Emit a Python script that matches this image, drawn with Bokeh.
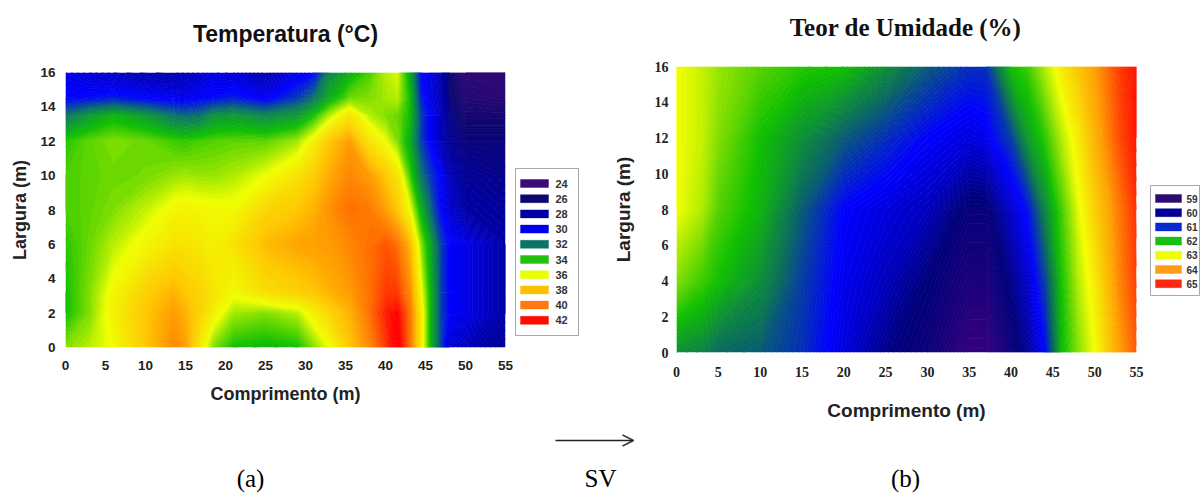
import numpy as np
from bokeh.embed import file_html
from bokeh.resources import INLINE
from bokeh.plotting import figure
from bokeh.layouts import column, row
from bokeh.models import (Range1d, FixedTicker, Arrow, OpenHead, ColumnDataSource)
from bokeh.core.properties import value

# --- values ---
temp_x = [0, 3, 6, 10, 13.5, 15, 17, 18.5, 21, 25, 29, 31, 33, 35.5, 38, 40, 41.5, 43, 44.5, 45.5, 47, 48, 50, 55]
temp_y = [0, 2, 3.2, 6, 8, 10, 12, 13.5, 14.5, 16]
temp_z = [
    [35, 35.5, 36.1, 38, 39.5, 39, 36.5, 35, 34, 33.8, 34, 35, 36, 38, 39.5, 41, 42.5, 40, 36.5, 34, 31, 29, 28.5, 27.5],
    [34, 35, 36.5, 38, 39, 38.5, 37.5, 36.5, 35.3, 35, 35.5, 36.5, 37.5, 38.5, 40, 41.5, 42, 40, 36.5, 34, 31, 30, 29.5, 28],
    [34, 35, 36.3, 37.7, 38.5, 38, 37.5, 37, 36.2, 37.2, 37.7, 38, 38.5, 39, 40, 41, 41, 39.5, 36, 34, 31, 30, 29.5, 28],
    [34.2, 34.8, 35.5, 36.3, 37, 37, 36.8, 36.5, 37, 38.3, 38.8, 38.9, 39, 39.5, 40, 40.5, 40, 38.5, 35, 33.5, 31, 30, 29.5, 28],
    [34.5, 34.7, 35, 35.6, 36.3, 36.4, 36.3, 36.2, 36.2, 37.5, 38, 38.5, 39.3, 40, 39.8, 39, 38, 36.2, 33.5, 32, 30, 29, 28, 27.5],
    [34.5, 34.7, 34.8, 34.9, 35.2, 35.3, 35.2, 35.2, 35.4, 36, 37, 37.8, 38.7, 39.5, 39, 38, 37, 34.5, 32, 31, 29.8, 28.5, 27.5, 27],
    [34.2, 34.7, 35, 34.8, 34.4, 34.3, 34.5, 34.6, 34.7, 34.7, 35.3, 36.5, 38, 39, 37, 36, 35, 33.5, 31, 30, 28.5, 27.5, 26.5, 26.5],
    [32, 33, 33.7, 33, 32, 31.8, 32, 32.8, 33, 32.5, 33, 34, 35.5, 37, 35.5, 35, 34.8, 34, 31, 30, 28.5, 27, 25.5, 25.5],
    [30, 30.2, 30.5, 30, 29.8, 29.7, 30, 30.2, 30.5, 29.8, 31, 32, 33.5, 34.8, 35, 35.3, 35.5, 34, 30.5, 29.5, 28.5, 26.5, 25, 24.8],
    [29.5, 29, 28.5, 28.2, 28, 28.3, 28.7, 29.3, 29, 28, 29.5, 30, 32.5, 33.5, 34.5, 35.5, 35.8, 33.5, 30, 29.5, 28, 26, 24.5, 24.5],
]
temp_labels = ["24", "26", "28", "30", "32", "34", "36", "38", "40", "42"]
temp_colors = ["#3a0a78", "#0c0670", "#0000a5", "#0000f0", "#0a7468", "#22c010", "#eaff00", "#ffc000", "#ff7a10", "#ff0a00"]

umid_x = [0, 3, 5, 10, 15, 20, 25, 30, 35, 37, 40, 42, 44, 46, 48, 50, 53, 55]
umid_y = [0, 4, 8, 12, 16]
umid_z = [
    [61.6, 61.5, 61.3, 61.2, 60.9, 60.4, 59.9, 59.6, 59.1, 59.1, 59.6, 60, 60.6, 61.9, 62.5, 63, 64, 64.5],
    [62.5, 62.2, 62, 61.6, 61, 60.5, 60.2, 59.8, 59.4, 59.4, 59.9, 60.3, 61, 62, 62.7, 63.2, 64.2, 64.7],
    [63, 62.7, 62.3, 61.9, 61.2, 60.6, 60.4, 60.2, 59.7, 59.7, 60.3, 60.7, 61.5, 62.2, 62.9, 63.5, 64.3, 64.8],
    [63, 62.8, 62.5, 62, 61.6, 61.2, 60.9, 60.6, 60.4, 60.5, 61, 61.7, 62.1, 62.7, 63.2, 63.8, 64.6, 65],
    [63, 62.8, 62.6, 62.3, 62.1, 62, 61.6, 61.2, 60.9, 60.9, 62, 62.2, 62.7, 63.2, 63.6, 64, 64.7, 65],
]
umid_labels = ["59", "60", "61", "62", "63", "64", "65"]
umid_colors = ["#2c0a72", "#00009a", "#0a28d0", "#14c010", "#eeff00", "#ff9c18", "#ff2810"]

x_ticks = [0, 5, 10, 15, 20, 25, 30, 35, 40, 45, 50, 55]
y_ticks = [0, 2, 4, 6, 8, 10, 12, 14, 16]

# colour ramps of the two colour scales (stop value, colour)
temp_stops = [(24, "#3a0a78"), (26, "#0c0670"), (28, "#0000a5"), (30, "#0000ff"), (32, "#0a7468"),
              (34, "#10c000"), (36, "#f0ff00"), (38, "#ffc800"), (40, "#ff7000"), (42, "#ff0000"), (43, "#ff0000")]
umid_stops = [(59, "#3a0080"), (59.8, "#00007a"), (60.6, "#0000ff"), (61.3, "#0a6a60"), (62, "#10c000"),
              (63, "#f5ff00"), (64, "#ffa000"), (65, "#ff1000")]

TOP = 58  # height of the strip holding the two titles


def ramp(stops, at):
    at = np.asarray(at)
    xs = [s[0] for s in stops]
    rgb = [[int(s[1][i:i + 2], 16) for i in (1, 3, 5)] for s in stops]
    chans = [np.interp(at, xs, [c[k] for c in rgb]) for k in range(3)]
    return ["#%02x%02x%02x" % (int(r), int(g), int(b)) for r, g, b in zip(*chans)]


def blank(width, height, xr, yr):
    f = figure(width=width, height=height, output_backend="svg", toolbar_location=None,
               x_range=Range1d(*xr), y_range=Range1d(*yr), min_border=0, frame_align=False)
    f.axis.visible = False
    f.grid.visible = False
    f.outline_line_color = None
    return f


def panel(x, y, z, levels, stops, tick_font, tick_size, width, height, borders, ls):
    left, right, top, bottom = borders
    p = figure(width=width, height=height, output_backend="svg", toolbar_location=None,
               x_range=Range1d(0, 55), y_range=Range1d(0, 16), frame_align=False,
               min_border_left=left, min_border_right=right, min_border_top=top, min_border_bottom=bottom)
    lv = np.asarray(levels)
    p.contour(x, y, np.array(z), levels, fill_color=ramp(stops, (lv[:-1] + lv[1:]) / 2),
              line_color=ramp(stops, lv), line_width=1)
    p.grid.visible = False
    p.outline_line_color = None
    p.xaxis.ticker = FixedTicker(ticks=x_ticks)
    p.yaxis.ticker = FixedTicker(ticks=y_ticks)
    p.xaxis.axis_label = "Comprimento (m)"
    p.yaxis.axis_label = "Largura (m)"
    for ax in (p.xaxis[0], p.yaxis[0]):
        ax.axis_line_color = None
        ax.major_tick_line_color = None
        ax.minor_tick_line_color = None
        ax.major_tick_in = 0
        ax.major_tick_out = 0
        ax.major_label_text_font = tick_font
        ax.major_label_text_font_size = tick_size
        ax.major_label_text_font_style = "bold"
        ax.major_label_text_color = "#222222"
        ax.axis_label_text_font = "Liberation Sans"
        ax.axis_label_text_font_size = ls["axis"]
        ax.axis_label_text_font_style = "bold"
        ax.axis_label_text_color = "#222222"
    p.xaxis[0].major_label_standoff = ls["xs"]
    p.yaxis[0].major_label_standoff = ls["ys"]
    p.xaxis[0].axis_label_standoff = ls["xl"]
    p.yaxis[0].axis_label_standoff = ls["yl"]
    return p


def key(labels, colors, x0, x1, box, first, step, sw, text_x, font):
    """A colour key drawn in page pixels: box = (left, right, top, bottom)."""
    k = blank(x1 - x0, 420 - TOP, (x0, x1), (420, TOP))
    k.quad(left=[box[0]], right=[box[1]], top=[box[2]], bottom=[box[3]],
           fill_color="white", line_color="#a8a8a8", line_width=1)
    ys = [first + step * i for i in range(len(labels))]
    src = ColumnDataSource(dict(left=[sw[0]] * len(labels), right=[sw[1]] * len(labels),
                                top=[v - 4 for v in ys], bottom=[v + 4 for v in ys],
                                c=colors, tx=[text_x] * len(labels), ty=ys, t=labels))
    k.quad(left="left", right="right", top="top", bottom="bottom", fill_color="c", line_color="c",
           line_alpha=0.4, source=src)
    k.text("tx", "ty", text="t", source=src, text_font=value("Liberation Sans"), text_font_style="bold",
           text_font_size=font, text_align="left", text_baseline="middle", text_color="#333333")
    return k


heads = blank(1200, TOP, (0, 1200), (TOP, 0))
heads.text([285], [33], text=["Temperatura (°C)"], text_font=value("Liberation Sans"), text_font_style="bold",
           text_font_size="23px", text_align="center", text_baseline="middle", text_color="#111111")
heads.text([905], [27], text=["Teor de Umidade (%)"], text_font=value("Liberation Serif"), text_font_style="bold",
           text_font_size="25px", text_align="center", text_baseline="middle", text_color="#111111")

p1 = panel(temp_x, temp_y, temp_z, list(np.arange(24, 43.01, 0.125)), temp_stops,
           "Liberation Sans", "13.5px", 514, 420 - TOP, (65, 9, 72 - TOP, 73),
           dict(axis="18px", xs=13, ys=10, xl=11, yl=7))
k1 = key(temp_labels, temp_colors, 514, 606, (515, 578, 168, 335), 183, 15.2, (520, 548), 555, "11px")
p2 = panel(umid_x, umid_y, umid_z, list(np.arange(59, 65.01, 0.04)), umid_stops,
           "Liberation Serif", "14px", 543, 423 - TOP, (70, 13, 66 - TOP, 71),
           dict(axis="19px", xs=14, ys=8, xl=20, yl=18))
k2 = key(umid_labels, umid_colors, 1149, 1200, (1150, 1199, 185, 295), 198, 14.2, (1155, 1181), 1186, "10px")

p3 = blank(1200, 72, (0, 1200), (495, 423))
cap = ColumnDataSource(dict(x=[250, 600, 905], y=[478, 478, 478], t=["(a)", "SV", "(b)"]))
p3.text("x", "y", text="t", source=cap, text_font=value("Liberation Serif"), text_font_size="25px",
        text_align="center", text_baseline="middle", text_color="#000000")
p3.add_layout(Arrow(end=OpenHead(size=11, line_color="#333344", line_width=1.5),
                    x_start=555, y_start=440, x_end=633, y_end=440, line_color="#222222", line_width=1.5))

page = column(heads, row(p1, k1, p2, k2), p3)
open("out.html", "w").write(file_html(page, INLINE))
